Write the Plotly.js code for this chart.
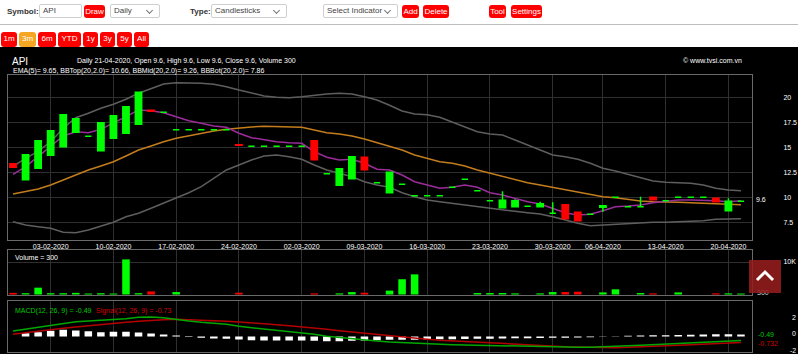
<!DOCTYPE html>
<html><head><meta charset="utf-8">
<script src="https://cdn.plot.ly/plotly-3.0.1.min.js"></script>
<style>
html,body{margin:0;padding:0;width:798px;height:354px;overflow:hidden;background:#fff;font-family:Arial,"Liberation Sans",sans-serif;}
.a{position:absolute;box-sizing:border-box;white-space:nowrap;}
.lbl{font-weight:bold;font-size:8px;color:#333;line-height:13px;height:13px;}
.box{border:1px solid #cfcfcf;border-radius:2px;background:#fff;font-size:8px;color:#444;line-height:12px;padding-left:3px;height:14px;}
.chev{position:absolute;right:7px;top:3px;width:4px;height:4px;border-right:1px solid #777;border-bottom:1px solid #777;transform:rotate(45deg);}
.btn{background:#ff0000;color:#fff;font-size:8px;border-radius:3px;text-align:center;line-height:13px;height:13px;}
.btn2{background:#ff0000;color:#fff;font-size:8px;border-radius:3px;text-align:center;line-height:14px;height:15px;top:32px;}
#sep{left:0;top:24px;width:798px;height:1px;background:#bdbdbd;}
#chart{position:absolute;left:0;top:47px;width:798px;height:307px;background:#000;}
#up{left:749px;top:260px;width:32px;height:33px;background:rgba(150,28,28,0.88);}
</style></head>
<body>
<div class="a lbl" style="left:7px;top:5px;">Symbol:</div>
<div class="a box" style="left:39px;top:4px;width:43px;">API</div>
<div class="a btn" style="left:84px;top:5px;width:21px;">Draw</div>
<div class="a box" style="left:110px;top:4px;width:50px;">Daily<span class="chev"></span></div>
<div class="a lbl" style="left:190px;top:5px;">Type:</div>
<div class="a box" style="left:211px;top:4px;width:76px;">Candlesticks<span class="chev"></span></div>
<div class="a box" style="left:323px;top:4px;width:75px;">Select Indicator<span class="chev"></span></div>
<div class="a btn" style="left:402px;top:5px;width:17px;">Add</div>
<div class="a btn" style="left:423px;top:5px;width:26px;">Delete</div>
<div class="a btn" style="left:489px;top:5px;width:17px;">Tool</div>
<div class="a btn" style="left:511px;top:5px;width:31px;">Settings</div>
<div class="a" id="sep"></div>
<div class="a btn2" style="left:1px;width:16px;">1m</div>
<div class="a btn2" style="left:19px;width:17px;background:#f5a623;">3m</div>
<div class="a btn2" style="left:38px;width:18px;">6m</div>
<div class="a btn2" style="left:58px;width:23px;">YTD</div>
<div class="a btn2" style="left:83px;width:15px;">1y</div>
<div class="a btn2" style="left:100px;width:15px;">3y</div>
<div class="a btn2" style="left:117px;width:15px;">5y</div>
<div class="a btn2" style="left:134px;width:15px;">All</div>
<div id="chart"></div>
<div class="a" id="up"><svg width="32" height="33"><polyline points="8,20 16,12 24,20" fill="none" stroke="#fff" stroke-width="3"/></svg></div>
<script>
const dates = ['22-01-2020','30-01-2020','31-01-2020','03-02-2020','04-02-2020','05-02-2020','06-02-2020','07-02-2020','10-02-2020','11-02-2020','12-02-2020','13-02-2020','14-02-2020','17-02-2020','18-02-2020','19-02-2020','20-02-2020','21-02-2020','24-02-2020','25-02-2020','26-02-2020','27-02-2020','28-02-2020','02-03-2020','03-03-2020','04-03-2020','05-03-2020','06-03-2020','09-03-2020','10-03-2020','11-03-2020','12-03-2020','13-03-2020','16-03-2020','17-03-2020','18-03-2020','19-03-2020','20-03-2020','23-03-2020','24-03-2020','25-03-2020','26-03-2020','27-03-2020','30-03-2020','31-03-2020','01-04-2020','03-04-2020','06-04-2020','07-04-2020','08-04-2020','09-04-2020','10-04-2020','13-04-2020','14-04-2020','15-04-2020','16-04-2020','17-04-2020','20-04-2020','21-04-2020'];
const openP = [13.35,11.75,12.9,14.2,15.05,16.5,16.1,14.65,15.9,16.4,17.3,18.7,18.5,16.75,16.75,16.75,16.75,16.75,15.25,15.1,15.1,15.1,15.1,15.1,15.65,12.35,11.2,11.85,14.0,11.45,10.45,11.3,10.15,10.15,10.15,11.0,11.8,10.65,9.65,8.95,9.05,9.1,9.05,8.4,9.25,8.5,8.3,9.0,10.0,9.05,9.05,10.0,9.65,10.0,10.0,10.0,9.9,8.65,9.6];
const highP = [13.35,14.25,15.65,16.65,18.25,17.85,16.1,17.45,18.15,19.05,20.5,18.7,18.5,16.75,16.75,16.75,16.75,16.75,15.25,15.1,15.1,15.1,15.1,15.1,15.65,12.35,12.85,14.05,14.0,11.45,12.5,11.3,10.15,10.15,10.15,11.0,11.8,10.65,9.65,10.6,9.8,9.1,9.55,9.5,9.25,8.5,8.3,9.15,10.0,9.05,10.05,10.0,9.65,10.0,10.0,10.0,9.9,9.9,9.6];
const lowP = [13.0,11.75,12.9,14.2,15.05,16.5,16.1,14.65,15.9,16.4,17.3,18.6,18.5,16.75,16.75,16.75,16.75,16.75,15.2,15.1,15.1,15.1,15.1,15.1,13.75,12.35,11.2,11.85,12.75,11.45,10.45,11.3,10.15,10.15,10.15,11.0,11.8,10.65,9.65,8.95,9.05,9.1,9.05,8.4,7.85,7.65,8.3,8.55,10.0,9.05,9.05,9.75,9.65,10.0,10.0,10.0,9.55,8.65,9.6];
const closeP = [13.0,14.25,15.65,16.65,18.25,17.85,16.1,17.45,18.15,19.05,20.5,18.6,18.5,16.75,16.75,16.75,16.75,16.75,15.2,15.1,15.1,15.1,15.1,15.1,13.75,12.35,12.85,14.05,12.75,11.45,12.5,11.3,10.15,10.15,10.15,11.0,11.8,10.65,9.65,9.7,9.65,9.1,9.35,8.4,7.85,7.65,8.3,9.15,10.0,9.05,9.05,9.75,9.65,10.0,10.0,10.0,9.55,9.6,9.6];
const volume = [500,400,2100,400,400,500,300,400,300,10800,400,950,0,750,0,0,0,0,550,0,0,0,0,0,350,0,350,750,550,0,1200,4700,6200,0,0,0,0,450,450,450,350,0,350,750,750,850,0,650,1600,0,450,350,0,650,0,0,350,350,300];
const ema5 = [12.3,13.06,14.06,15.06,16.13,16.56,16.46,16.8,17.4,18.06,18.73,18.66,18.46,18.06,17.66,17.4,17.13,17.0,16.4,15.96,15.73,15.56,15.46,15.4,14.56,14.0,13.73,13.8,13.4,12.8,12.73,12.23,11.56,11.23,10.9,11.0,11.23,11.0,10.46,10.23,9.9,9.56,9.33,8.9,8.46,8.23,8.3,8.66,9.06,9.13,9.23,9.46,9.63,9.73,9.73,9.73,9.66,9.56,9.65];
const bbTop = [13.1,13.9,14.6,15.56,16.9,17.96,18.4,18.9,19.3,19.8,20.4,20.9,21.33,21.46,21.46,21.4,21.3,21.06,20.73,20.46,20.13,20.0,19.96,20.06,20.23,20.33,20.4,20.33,20.06,19.73,19.2,18.63,18.33,18.26,18.0,17.53,17.06,16.56,16.33,16.23,15.73,15.23,14.73,14.23,14.06,13.8,13.4,12.9,12.63,12.3,11.96,11.63,11.5,11.46,11.4,11.23,10.9,10.73,10.66];
const bbMid = [10.33,10.56,10.83,11.23,11.73,12.23,12.73,13.13,13.56,14.13,14.73,15.13,15.56,15.9,16.16,16.4,16.63,16.8,16.93,17.03,17.1,17.06,17.06,17.0,16.73,16.46,16.33,16.13,15.83,15.46,15.13,14.73,14.23,13.9,13.56,13.4,13.13,12.73,12.4,12.13,11.8,11.46,11.23,11.0,10.8,10.56,10.33,10.06,9.96,9.8,9.63,9.56,9.5,9.5,9.46,9.4,9.33,9.26,9.26];
const bbBot = [7.56,7.23,7.06,6.9,6.5,6.46,6.73,7.13,7.5,8.06,8.4,8.9,9.4,9.9,10.46,11.06,11.9,12.73,13.23,13.73,14.13,14.23,14.06,13.8,13.23,12.73,12.4,12.06,11.56,11.23,11.0,10.46,10.06,9.73,9.56,9.4,9.23,9.06,8.86,8.73,8.6,8.46,8.33,8.06,7.73,7.4,7.16,7.23,7.36,7.43,7.46,7.5,7.5,7.53,7.56,7.66,7.8,7.86,7.86];
const macd = [0.66,0.9,1.14,1.38,1.62,1.78,1.86,1.94,2.02,2.14,2.3,2.34,2.26,2.02,1.86,1.7,1.58,1.46,1.22,1.06,0.9,0.78,0.66,0.5,0.26,0.02,-0.14,-0.26,-0.38,-0.54,-0.66,-0.74,-0.78,-0.82,-0.9,-0.98,-1.02,-1.06,-1.1,-1.1,-1.14,-1.18,-1.22,-1.26,-1.3,-1.3,-1.3,-1.26,-1.2,-1.12,-1.05,-0.98,-0.91,-0.84,-0.77,-0.7,-0.63,-0.56,-0.49];
const signal = [0.26,0.46,0.66,0.82,0.98,1.14,1.3,1.46,1.58,1.7,1.82,1.94,2.02,2.06,2.02,1.94,1.9,1.82,1.74,1.66,1.54,1.42,1.3,1.18,1.02,0.86,0.7,0.54,0.38,0.22,0.06,-0.1,-0.22,-0.34,-0.46,-0.54,-0.66,-0.74,-0.82,-0.9,-0.98,-1.02,-1.1,-1.14,-1.22,-1.26,-1.3,-1.34,-1.34,-1.3,-1.26,-1.22,-1.14,-1.06,-0.98,-0.91,-0.85,-0.79,-0.73];
const hist = [0,0.4,0.52,0.68,0.8,0.72,0.64,0.52,0.56,0.56,0.48,0.36,0.24,0.12,-0.06,-0.16,-0.24,-0.28,-0.36,-0.44,-0.48,-0.48,-0.48,-0.48,-0.52,-0.56,-0.56,-0.52,-0.48,-0.44,-0.4,-0.4,-0.38,-0.36,-0.34,-0.32,-0.3,-0.28,-0.26,-0.24,-0.22,-0.2,-0.18,-0.16,-0.14,-0.12,-0.08,-0.03,0.03,0.08,0.11,0.14,0.16,0.19,0.22,0.24,0.26,0.26,0.24];
const weekTicks = ['03-02-2020','10-02-2020','17-02-2020','24-02-2020','02-03-2020','09-03-2020','16-03-2020','23-03-2020','30-03-2020','06-04-2020','13-04-2020','20-04-2020'];
const priceTicks = [7.5,10,12.5,15,17.5,20];
const priceTickText = ['7.5','10','12.5','15','17.5','20'];
const volTicks = [10000];
const volTickText = ['10K'];

const W = 798, H = 307, TOP = 47;
const X = p => p / W;
const Y = p => 1 - (p - TOP) / H;
const up = '#00ff00', down = '#ff0000';
const volColors = closeP.map((c, i) => c >= openP[i] ? up : down);
const upIdx = [], downIdx = [];
closeP.forEach((c, i) => (c >= openP[i] ? upIdx : downIdx).push(i));
const pick = (arr, idx) => idx.map(i => arr[i]);
const grid = '#2f2f2f', border = '#6a6a6a';
const xdom = [X(8), X(752)];
const xr = [-0.4, 58.88];

const xBase = {type:'category', categoryorder:'array', categoryarray:dates, domain:xdom, range:xr,
  tickvals:weekTicks, ticktext:weekTicks, showgrid:true, gridcolor:grid, zeroline:false,
  showline:true, mirror:true, linecolor:border, linewidth:1, ticks:'', fixedrange:true,
  tickfont:{family:'Arial', size:7, color:'#ffffff'}, rangeslider:{visible:false}};
const yBase = {side:'right', showgrid:true, gridcolor:grid, zeroline:false, showline:true, mirror:true,
  linecolor:border, linewidth:1, ticks:'outside', ticklen:29, tickcolor:'rgba(0,0,0,0)', fixedrange:true,
  tickfont:{family:'Arial', size:7, color:'#ffffff'}};

function candles(idx, color) {
  return {type:'candlestick', x:pick(dates, idx), open:pick(openP, idx), high:pick(highP, idx),
    low:pick(lowP, idx), close:pick(closeP, idx), xaxis:'x', yaxis:'y4',
    increasing:{line:{color:color, width:1.5}, fillcolor:color},
    decreasing:{line:{color:color, width:1.5}, fillcolor:color},
    whiskerwidth:0, hoverinfo:'skip'};
}

const traces = [
  {type:'scatter', mode:'lines', x:dates, y:bbTop, xaxis:'x', yaxis:'y', line:{color:'#5e5e5e', width:1.5}, hoverinfo:'skip'},
  {type:'scatter', mode:'lines', x:dates, y:bbBot, xaxis:'x', yaxis:'y', line:{color:'#5e5e5e', width:1.5}, hoverinfo:'skip'},
  {type:'scatter', mode:'lines', x:dates, y:bbMid, xaxis:'x', yaxis:'y', line:{color:'#c47d1c', width:1.5}, hoverinfo:'skip'},
  {type:'scatter', mode:'lines', x:dates, y:ema5, xaxis:'x', yaxis:'y', line:{color:'#9b2d9b', width:1.5}, hoverinfo:'skip'},
  candles(upIdx, up),
  candles(downIdx, down),
  {type:'bar', x:dates, y:volume, xaxis:'x2', yaxis:'y2', marker:{color:volColors, line:{width:0}}, width:0.6, hoverinfo:'skip'},
  {type:'bar', x:dates, y:hist, xaxis:'x3', yaxis:'y3', marker:{color:'#ffffff', line:{width:0}}, width:0.6, hoverinfo:'skip'},
  {type:'scatter', mode:'lines', x:dates, y:signal, xaxis:'x3', yaxis:'y3', line:{color:'#b40000', width:1.5}, hoverinfo:'skip'},
  {type:'scatter', mode:'lines', x:dates, y:macd, xaxis:'x3', yaxis:'y3', line:{color:'#00a800', width:1.5}, hoverinfo:'skip'}
];

function ann(text, x, y, size, color, anchor) {
  return {text:text, x:X(x), y:Y(y), xref:'paper', yref:'paper', xanchor:anchor || 'left', yanchor:'middle',
    showarrow:false, font:{family:'Arial', size:size, color:color}, borderpad:0};
}

const layout = {
  width:W, height:H, margin:{l:0, r:0, t:0, b:0},
  paper_bgcolor:'#000000', plot_bgcolor:'#000000', showlegend:false,
  font:{family:'Arial', size:7, color:'#ffffff'},
  boxmode:'overlay', boxgap:0.3, boxgroupgap:0.28, bargap:0.4,
  xaxis:Object.assign({}, xBase, {anchor:'y'}),
  xaxis2:Object.assign({}, xBase, {anchor:'y2', matches:'x', showticklabels:false}),
  xaxis3:Object.assign({}, xBase, {anchor:'y3', matches:'x', showticklabels:false}),
  yaxis:Object.assign({}, yBase, {domain:[Y(240), Y(74.5)], range:[5.73, 22.28], anchor:'x',
    tickvals:priceTicks, ticktext:priceTickText}),
  yaxis4:{overlaying:'y', range:[5.73, 22.28], visible:false, side:'right', fixedrange:true},
  yaxis2:Object.assign({}, yBase, {domain:[Y(295), Y(250)], range:[-150, 13690], anchor:'x2',
    tickvals:volTicks, ticktext:volTickText}),
  yaxis3:Object.assign({}, yBase, {domain:[Y(352.3), Y(301)], range:[-1.9, 4.26], anchor:'x3',
    showgrid:false, showticklabels:false, ticks:''}),
  annotations:[
    ann('API', 11, 61, 10, '#ffffff'),
    ann('Daily 21-04-2020, Open 9.6, High 9.6, Low 9.6, Close 9.6, Volume 300', 76, 61, 7, '#ffffff'),
    ann('EMA(5)= 9.65, BBTop(20,2.0)= 10.66, BBMid(20,2.0)= 9.26, BBBot(20,2.0)= 7.86', 12, 71, 7, '#ffffff'),
    ann('© www.tvsi.com.vn', 682, 60, 7, '#ffffff'),
    ann('9.6', 755, 199, 7, '#ffffff'),
    ann('Volume = 300', 14, 257, 7, '#ffffff'),
    ann('300', 756, 292, 7, '#dddddd'),
    ann('MACD(12, 26, 9) = -0.49', 14, 311, 7, '#00c800'),
    ann('Signal(12, 26, 9) = -0.73', 95, 311, 7, '#d40000'),
    ann('-0.49', 757, 334, 7, '#00c800'),
    ann('-0.732', 757, 343, 7, '#d40000'),
    ann('2', 791, 317, 7, '#ffffff'),
    ann('0', 791, 333.5, 7, '#ffffff'),
    ann('-2', 789, 350, 7, '#ffffff')
  ]
};

Plotly.newPlot('chart', traces, layout, {displayModeBar:false, staticPlot:true});
</script>
</body></html>
